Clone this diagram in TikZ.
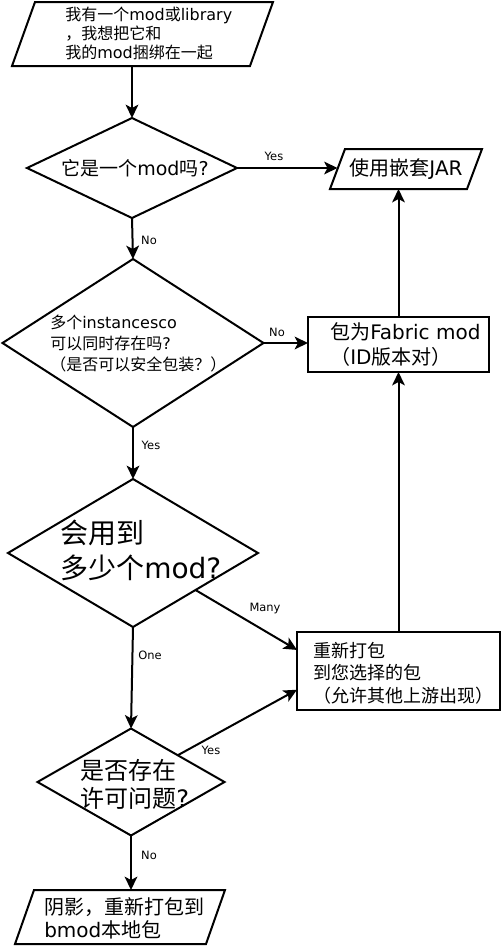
\documentclass[tikz,border=0pt]{standalone}
\usepackage{fontspec}
\setmainfont{Noto Sans CJK SC}
\newfontfamily\dv{DejaVu Sans}
\usetikzlibrary{shapes.geometric,arrows.meta,calc}
\begin{document}
\begin{tikzpicture}[x=0.75pt,y=-0.75pt,
  shp/.style={draw,line width=1.5pt,inner sep=0pt,outer sep=0pt},
  dia/.style={shp,diamond},
  para/.style={rectangle,inner sep=0pt,outer sep=0pt},
  pline/.style={line width=1.5pt,line join=miter},
  box/.style={shp,rectangle},
  txt/.style={inner sep=0pt,align=left,anchor=west},
  lbl/.style={inner sep=0pt,font=\dv\fontsize{8.6}{10}\selectfont},
  arr/.style={line width=1.5pt,-{Stealth[length=10pt,width=9.5pt,inset=2.5pt]}}]
\useasboundingbox (0,0) rectangle (502,946);
\fill[white] (0,0) rectangle (502,946);
% shapes
\node[para,minimum width=178.5pt,minimum height=48pt] (start) at (142.5,34) {};
\draw[pline] ([xshift=8.625pt]start.north west) -- ([xshift=8.625pt]start.north east) -- ([xshift=-8.625pt]start.south east) -- ([xshift=-8.625pt]start.south west) -- cycle;
\node[dia,minimum width=157.5pt,minimum height=75pt] (d1) at (132,168) {};
\node[para,minimum width=102.75pt,minimum height=30pt] (jar) at (406,169) {};
\draw[pline] ([xshift=5.625pt]jar.north west) -- ([xshift=5.625pt]jar.north east) -- ([xshift=-5.625pt]jar.south east) -- ([xshift=-5.625pt]jar.south west) -- cycle;
\node[dia,minimum width=195.75pt,minimum height=126pt] (d2) at (133,343) {};
\node[box,minimum width=135.75pt,minimum height=41.25pt] (fab) at (398.5,344.5) {};
\node[dia,minimum width=187.5pt,minimum height=111pt] (d3) at (133,553) {};
\node[box,minimum width=152.25pt,minimum height=58.5pt] (rep) at (398.5,671) {};
\node[dia,minimum width=140.25pt,minimum height=80.25pt] (d4) at (131,782) {};
\node[para,minimum width=143.25pt,minimum height=40.5pt] (shadow) at (120,917) {};
\draw[pline] ([xshift=7.125pt]shadow.north west) -- ([xshift=7.125pt]shadow.north east) -- ([xshift=-7.125pt]shadow.south east) -- ([xshift=-7.125pt]shadow.south west) -- cycle;
% texts
\node[txt,font=\fontsize{12}{14.6}\selectfont] (tstart) at (65,33.5) {我有一个{\dv mod}或{\dv library}\\，我想把它和\\我的{\dv mod}捆绑在一起};
\node[inner sep=0pt,font=\fontsize{14.25}{17}\selectfont] (td1) at (135,168) {它是一个{\dv mod}吗{\dv ?}};
\node[inner sep=0pt,font=\fontsize{15}{18}\selectfont] (tjar) at (406,169) {使用嵌套{\dv JAR}};
\node[txt,font=\fontsize{12}{16}\selectfont] (td2) at (50,343.5) {多个{\dv instancesco}\\可以同时存在吗{\dv ?}\\（是否可以安全包装？）};
\node[txt,font=\fontsize{15}{18.75}\selectfont] (tfab) at (330,344.5) {包为{\dv Fabric mod}\\（{\dv ID}版本对）};
\node[txt,font=\fontsize{21}{26}\selectfont] (td3) at (60,550.5) {会用到\\多少个{\dv mod?}};
\node[txt,font=\fontsize{13.5}{17}\selectfont] (trep) at (313,673) {重新打包\\到您选择的包\\（允许其他上游出现）};
\node[txt,font=\fontsize{18}{21}\selectfont] (td4) at (80,784) {是否存在\\许可问题{\dv ?}};
\node[txt,font=\fontsize{15}{17}\selectfont] (tsh) at (44,918.5) {阴影，重新打包到\\{\dv bmod}本地包};
% connectors
\draw[arr] (start.south -| d1.north) -- (d1.north);
\draw[arr] (d1.east) -- (d1.east -| jar.west);
\draw[arr] (d1.south) -- (d2.north);
\draw[arr] (d2.east) -- (d2.east -| fab.west);
\draw[arr] (fab.north) -- (fab.north |- jar.south);
\draw[arr] (d2.south) -- (d3.north);
\coordinate (d3e) at ($(d3.east)!0.5!(d3.south)$);
\coordinate (repa) at ($(rep.north west)!0.23!(rep.south west)$);
\draw[arr] (d3e) -- (repa);
\draw[arr] (d3.south) -- (d4.north);
\coordinate (d4e) at ($(d4.north)!0.5!(d4.east)$);
\coordinate (repb) at ($(rep.north west)!0.74!(rep.south west)$);
\draw[arr] (d4e) -- (repb);
\draw[arr] (d4.south) -- (d4.south |- shadow.north);
\draw[arr] (rep.north) -- (fab.south);
% labels
\node[lbl] (l1) at (274,156) {Yes};
\node[lbl] (l2) at (149,240) {No};
\node[lbl] (l3) at (277,332) {No};
\node[lbl] (l4) at (151,445) {Yes};
\node[lbl] (l5) at (265,609) {Many};
\node[lbl] (l6) at (150,655) {One};
\node[lbl] (l7) at (211,750) {Yes};
\node[lbl] (l8) at (149,855) {No};
\end{tikzpicture}
\end{document}
